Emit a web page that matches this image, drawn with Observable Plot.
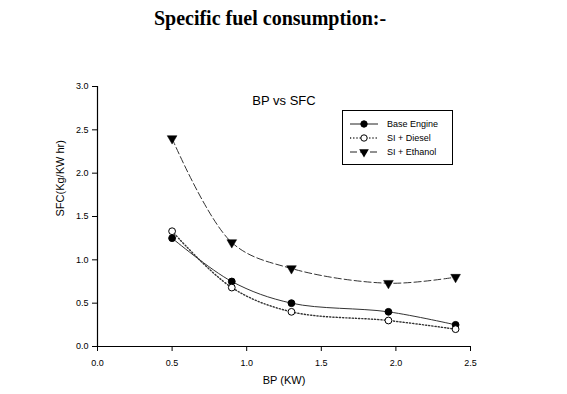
<!DOCTYPE html>
<html>
<head>
<meta charset="utf-8">
<script src="https://cdn.jsdelivr.net/npm/d3@7"></script>
<script src="https://cdn.jsdelivr.net/npm/@observablehq/plot@0.6"></script>
<style>
  html, body { margin: 0; padding: 0; background: #fff; }
  #wrap { position: relative; width: 567px; height: 394px; overflow: hidden; }
  #title { height: 38px; line-height: 36px; text-align: center; font-family: "Liberation Serif", "Times New Roman", serif; font-weight: bold; font-size: 20px; color: #000; box-sizing: border-box; width: 540px; }
  #legend { position: absolute; left: 342px; top: 110px; }
</style>
</head>
<body>
<div id="wrap">
  <div id="title">Specific fuel consumption:-</div>
  <div id="chart"></div>
  <div id="legend"></div>
</div>
<script>
const bp = [0.5, 0.9, 1.3, 1.95, 2.4];
const baseEngine = [1.25, 0.75, 0.5, 0.4, 0.25];
const siDiesel = [1.33, 0.68, 0.4, 0.3, 0.2];
const siEthanol = [2.4, 1.2, 0.9, 0.73, 0.8];
const seriesNames = ["Base Engine", "SI + Diesel", "SI + Ethanol"];
const xTicks = [0, 0.5, 1.0, 1.5, 2.0, 2.5];
const yTicks = [0, 0.5, 1.0, 1.5, 2.0, 2.5, 3.0];

const styles = {
  "Base Engine": {dash: null, symbol: "circle", fill: "#000"},
  "SI + Diesel": {dash: "1.2,2", symbol: "circle", fill: "#fff"},
  "SI + Ethanol": {dash: "7,3", symbol: "triangle", fill: "#000"}
};

const seriesValues = [baseEngine, siDiesel, siEthanol];
const data = seriesNames.flatMap((name, i) => bp.map((x, j) => ({series: name, bp: x, sfc: seriesValues[i][j]})));

const font = "'Liberation Sans', Arial, sans-serif";
const marks = [
  Plot.ruleX([0], {stroke: "#000", strokeWidth: 1.2}),
  Plot.ruleY([0], {stroke: "#000", strokeWidth: 1.2}),
  Plot.axisX({ticks: xTicks, tickFormat: d3.format(".1f"), tickSize: 5, tickPadding: 8, label: null, fontSize: 9}),
  Plot.axisY({ticks: yTicks, tickFormat: d3.format(".1f"), tickSize: 5, tickPadding: 4, label: null, fontSize: 9}),
  Plot.text(["BP (KW)"], {frameAnchor: "bottom", dy: 37, fontSize: 11, fill: "#000"}),
  Plot.text(["SFC(Kg/KW hr)"], {frameAnchor: "left", dx: -37, rotate: -90, fontSize: 11, fill: "#000"}),
  Plot.text(["BP vs SFC"], {frameAnchor: "top", dy: 9, fontSize: 13, fill: "#000"})
];
for (const name of seriesNames) {
  const s = styles[name];
  const d = data.filter(r => r.series === name);
  marks.push(Plot.line(d, {x: "bp", y: "sfc", curve: "catmull-rom", stroke: "#333", strokeWidth: name === "SI + Diesel" ? 1.4 : 1, strokeDasharray: s.dash}));
  if (s.symbol === "circle") {
    marks.push(Plot.dot(d, {x: "bp", y: "sfc", symbol: "circle", r: 3.4, fill: s.fill, stroke: "#000", strokeWidth: 1}));
  } else {
    marks.push(Plot.dot(d, {x: "bp", y: "sfc", symbol: "triangle", rotate: 180, r: 3.6, fill: "#000", stroke: "#000", strokeWidth: 0.5}));
  }
}

const chart = Plot.plot({
  width: 567,
  height: 356,
  marginTop: 48,
  marginBottom: 48,
  marginLeft: 97,
  marginRight: 97,
  x: {domain: [0, 2.5]},
  y: {domain: [0, 3]},
  style: {fontFamily: font, fontSize: "9px", color: "#000", background: "#fff"},
  marks
});
document.getElementById("chart").appendChild(chart);

// legend
const lg = d3.select("#legend").append("svg").attr("width", 112).attr("height", 56)
  .style("font-family", font);
lg.append("rect").attr("x", 0.5).attr("y", 0.5).attr("width", 110).attr("height", 54)
  .attr("fill", "#fff").attr("stroke", "#000");
seriesNames.forEach((name, i) => {
  const s = styles[name];
  const y = 14 + i * 14;
  lg.append("line").attr("x1", 8).attr("x2", 36).attr("y1", y).attr("y2", y)
    .attr("stroke", "#222").attr("stroke-width", name === "SI + Diesel" ? 1.4 : 1)
    .attr("stroke-dasharray", s.dash);
  if (s.symbol === "circle") {
    lg.append("circle").attr("cx", 22).attr("cy", y).attr("r", 3.2).attr("fill", s.fill).attr("stroke", "#000");
  } else {
    lg.append("path")
      .attr("d", d3.symbol(d3.symbolTriangle, 40)()).attr("transform", `translate(22,${y}) rotate(180)`)
      .attr("fill", "#000");
  }
  lg.append("text").attr("x", 45).attr("y", y).attr("dy", "0.35em").attr("font-size", 9).attr("fill", "#000").text(name);
});
</script>
</body>
</html>
